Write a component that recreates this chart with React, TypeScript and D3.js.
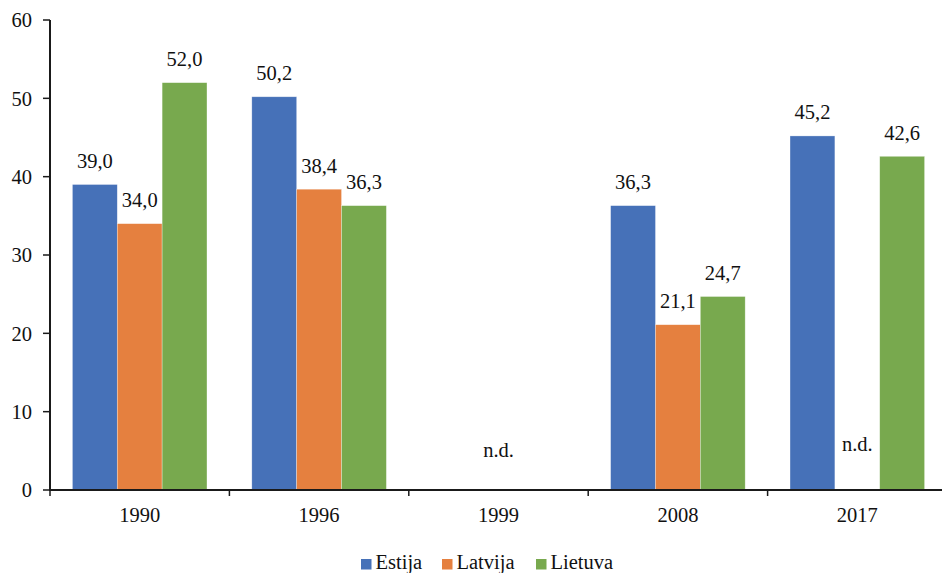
import React from "react";
import * as d3 from "d3";

const categories = ["1990", "1996", "1999", "2008", "2017"];
const seriesNames = ["Estija", "Latvija", "Lietuva"];
const estija: (number | null)[] = [39.0, 50.2, null, 36.3, 45.2];
const latvija: (number | null)[] = [34.0, 38.4, null, 21.1, null];
const lietuva: (number | null)[] = [52.0, 36.3, null, 24.7, 42.6];
const yTicks = [0, 10, 20, 30, 40, 50, 60];
const ndLabels = [
  { category: "1999", series: "Latvija", text: "n.d.", y: 4.2 },
  { category: "2017", series: "Latvija", text: "n.d.", y: 4.95 },
];

const colors = ["#4671B8", "#E5803F", "#78A94E"];
const W = 942;
const H = 573;
const txt: React.CSSProperties = { fontFamily: "Liberation Serif", fontSize: "20.5px" };

export default function App() {
  const seriesValues = [estija, latvija, lietuva];
  const x0 = d3.scaleBand<string>().domain(categories).range([50, 947]).paddingInner(0).paddingOuter(0);
  const x1 = d3
    .scaleBand<string>()
    .domain(seriesNames)
    .range([0, x0.bandwidth()])
    .paddingInner(0)
    .paddingOuter(0.5);
  const y = d3.scaleLinear().domain([0, 60]).range([490, 20]);
  const fmt = (v: number) => d3.format(".1f")(v).replace(".", ",");
  const axisColor = "#1a1a1a";
  const legendX = [361, 442, 536];

  return (
    <svg width={W} height={H} style={{ position: "absolute", left: 0, top: 0, background: "#fff" }}>
      <rect x={0} y={0} width={W} height={H} fill="#fff" />
      {seriesValues.map((vals, si) =>
        vals.map((v, ci) =>
          v == null ? null : (
            <rect
              key={`b-${si}-${ci}`}
              x={(x0(categories[ci]) as number) + (x1(seriesNames[si]) as number)}
              y={y(v)}
              width={x1.bandwidth()}
              height={y(0) - y(v)}
              fill={colors[si]}
              stroke="#ffffff"
              strokeOpacity={0.5}
              strokeWidth={0.6}
            />
          )
        )
      )}
      {seriesValues.map((vals, si) =>
        vals.map((v, ci) =>
          v == null ? null : (
            <text
              key={`l-${si}-${ci}`}
              x={(x0(categories[ci]) as number) + (x1(seriesNames[si]) as number) + x1.bandwidth() / 2}
              y={y(v) - 16.5}
              textAnchor="middle"
              style={txt}
              fill="#111"
            >
              {fmt(v)}
            </text>
          )
        )
      )}
      {ndLabels.map((d, i) => (
        <text
          key={`nd-${i}`}
          x={(x0(d.category) as number) + (x1(d.series) as number) + x1.bandwidth() / 2}
          y={y(d.y)}
          textAnchor="middle"
          style={txt}
          fill="#111"
        >
          {d.text}
        </text>
      ))}
      <line x1={50} x2={50} y1={y(60)} y2={y(0)} stroke={axisColor} strokeWidth={2} />
      {yTicks.map((t) => (
        <g key={`yt-${t}`}>
          <line x1={43} x2={50} y1={y(t)} y2={y(t)} stroke={axisColor} strokeWidth={1.5} />
          <text x={32} y={y(t)} dy="0.35em" textAnchor="end" style={txt} fill="#111">
            {t}
          </text>
        </g>
      ))}
      <line x1={49} x2={947} y1={y(0)} y2={y(0)} stroke={axisColor} strokeWidth={2.2} />
      {categories.map((c) => (
        <g key={`xt-${c}`}>
          <line
            x1={x0(c) as number}
            x2={x0(c) as number}
            y1={y(0)}
            y2={y(0) + 6}
            stroke={axisColor}
            strokeWidth={1.5}
          />
          <text
            x={(x0(c) as number) + x0.bandwidth() / 2}
            y={522}
            textAnchor="middle"
            style={txt}
            fill="#111"
          >
            {c}
          </text>
        </g>
      ))}
      {seriesNames.map((s, i) => (
        <g key={`lg-${s}`}>
          <rect x={legendX[i]} y={559} width={10.5} height={10.5} fill={colors[i]} />
          <text x={legendX[i] + 14.5} y={569} style={txt} fill="#111">
            {s}
          </text>
        </g>
      ))}
    </svg>
  );
}
